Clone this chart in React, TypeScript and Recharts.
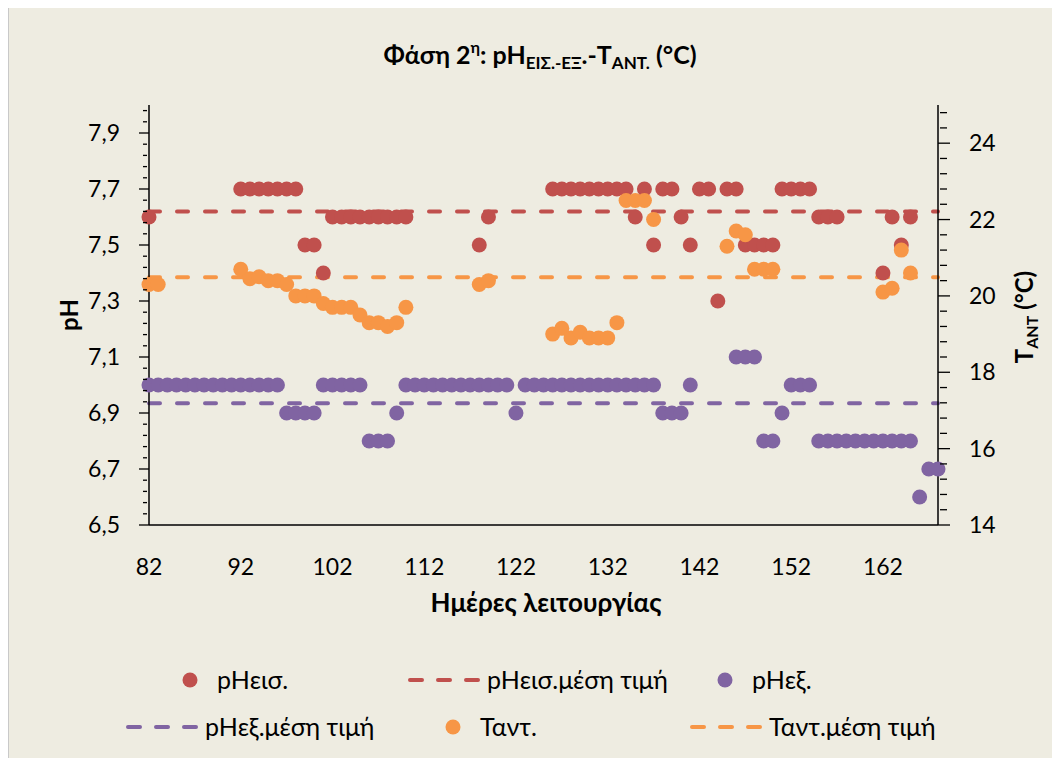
import { ComposedChart, Scatter, Line, XAxis, YAxis } from "recharts";

// ημέρες λειτουργίας / τιμές ανά σειρά
const inletDays = [
  82, 92, 93, 94, 95, 96, 97, 98, 99, 100, 101, 102, 103, 104, 105, 106, 107, 108, 109, 110,
  118, 119, 126, 127, 128, 129, 130, 131, 132, 133, 134, 135, 136, 137, 138, 139, 140, 141,
  142, 143, 144, 145, 146, 147, 148, 149, 150, 151, 152, 153, 154, 155, 156, 157, 162, 163, 164, 165,
];
const inletPH = [
  7.6, 7.7, 7.7, 7.7, 7.7, 7.7, 7.7, 7.7, 7.5, 7.5, 7.4, 7.6, 7.6, 7.6, 7.6, 7.6, 7.6, 7.6, 7.6, 7.6,
  7.5, 7.6, 7.7, 7.7, 7.7, 7.7, 7.7, 7.7, 7.7, 7.7, 7.7, 7.6, 7.7, 7.5, 7.7, 7.7, 7.6, 7.5,
  7.7, 7.7, 7.3, 7.7, 7.7, 7.5, 7.5, 7.5, 7.5, 7.7, 7.7, 7.7, 7.7, 7.6, 7.6, 7.6, 7.4, 7.6, 7.5, 7.6,
];

const outletDays = [
  82, 83, 84, 85, 86, 87, 88, 89, 90, 91, 92, 93, 94, 95, 96, 97, 98, 99, 100, 101, 102, 103, 104, 105,
  106, 107, 108, 109, 110, 111, 112, 113, 114, 115, 116, 117, 118, 119, 120, 121, 122, 123, 124, 125,
  126, 127, 128, 129, 130, 131, 132, 133, 134, 135, 136, 137, 138, 139, 140, 141, 146, 147, 148, 149,
  150, 151, 152, 153, 154, 155, 156, 157, 158, 159, 160, 161, 162, 163, 164, 165, 166, 167, 168,
];
const outletPH = [
  7.0, 7.0, 7.0, 7.0, 7.0, 7.0, 7.0, 7.0, 7.0, 7.0, 7.0, 7.0, 7.0, 7.0, 7.0, 6.9, 6.9, 6.9, 6.9, 7.0, 7.0, 7.0, 7.0, 7.0,
  6.8, 6.8, 6.8, 6.9, 7.0, 7.0, 7.0, 7.0, 7.0, 7.0, 7.0, 7.0, 7.0, 7.0, 7.0, 7.0, 6.9, 7.0, 7.0, 7.0,
  7.0, 7.0, 7.0, 7.0, 7.0, 7.0, 7.0, 7.0, 7.0, 7.0, 7.0, 7.0, 6.9, 6.9, 6.9, 7.0, 7.1, 7.1, 7.1, 6.8,
  6.8, 6.9, 7.0, 7.0, 7.0, 6.8, 6.8, 6.8, 6.8, 6.8, 6.8, 6.8, 6.8, 6.8, 6.8, 6.8, 6.6, 6.7, 6.7,
];

const tempDays = [
  82, 83, 92, 93, 94, 95, 96, 97, 98, 99, 100, 101, 102, 103, 104, 105, 106, 107, 108, 109, 110,
  118, 119, 126, 127, 128, 129, 130, 131, 132, 133, 134, 135, 136, 137, 145, 146, 147, 148, 149, 150,
  162, 163, 164, 165,
];
const tempAnt = [
  20.3, 20.3, 20.7, 20.45, 20.5, 20.4, 20.4, 20.3, 20.0, 20.0, 20.0, 19.8, 19.7, 19.7, 19.7, 19.5, 19.3, 19.3, 19.2, 19.3, 19.7,
  20.3, 20.4, 19.0, 19.15, 18.9, 19.05, 18.9, 18.9, 18.9, 19.3, 22.5, 22.5, 22.5, 22.0, 21.3, 21.7, 21.6, 20.7, 20.7, 20.7,
  20.1, 20.2, 21.2, 20.6,
];

const meanSpan = [82, 168];
const inletMean = 7.62;
const outletMean = 6.935;
const tempMean = 20.49;

const xTicks = [82, 92, 102, 112, 122, 132, 142, 152, 162];
const phMajor = [6.5, 6.7, 6.9, 7.1, 7.3, 7.5, 7.7, 7.9];
const tMajor = [14, 16, 18, 20, 22, 24];

const RED = "#C0504D";
const PURPLE = "#8064A2";
const ORANGE = "#F79646";
const FONT = "Lato, 'Open Sans', sans-serif";

const toPoints = (days: number[], vals: number[]) => days.map((d, i) => ({ day: d, v: vals[i] }));
const meanLine = (v: number) => meanSpan.map((d) => ({ day: d, v }));

// minor ticks: 5 per major step
const phTicks = Array.from({ length: 38 }, (_, i) => +(6.5 + i * 0.04).toFixed(2));
const tTicks = Array.from({ length: 28 }, (_, i) => +(14 + i * 0.4).toFixed(1));

const isMajor = (list: number[], v: number) => list.some((m) => Math.abs(m - v) < 1e-6);

const LeftTick = (props: any) => {
  const { x, y, payload } = props;
  const major = isMajor(phMajor, payload.value);
  return (
    <g>
      <line x1={major ? x - 8 : x - 4} x2={major ? x + 2 : x} y1={y} y2={y} stroke="#000" strokeWidth={1.3} />
      {major && (
        <text x={x - 27} y={y} dy={8} textAnchor="end" fontSize={23} fontFamily={FONT} fill="#000">
          {payload.value.toFixed(1).replace(".", ",")}
        </text>
      )}
    </g>
  );
};

const RightTick = (props: any) => {
  const { x, y, payload } = props;
  const major = isMajor(tMajor, payload.value);
  return (
    <g>
      <line x1={major ? x - 2 : x} x2={major ? x + 10 : x + 7} y1={y} y2={y} stroke="#000" strokeWidth={1.3} />
      {major && (
        <text x={x + 29} y={y} dy={8} textAnchor="start" fontSize={23} fontFamily={FONT} fill="#000">
          {payload.value}
        </text>
      )}
    </g>
  );
};

const BottomTick = (props: any) => {
  const { x, y, payload } = props;
  return (
    <text x={x} y={y + 48} textAnchor="middle" fontSize={23} fontFamily={FONT} fill="#000">
      {payload.value}
    </text>
  );
};

const dot = (color: string) => (p: any) => <circle cx={p.cx} cy={p.cy} r={7.5} fill={color} />;

const DASH = "11 17";
const LEG_FS = 25;

const LegendDot = ({ x, y, color, label }: any) => (
  <g>
    <circle cx={x} cy={y} r={7.5} fill={color} />
    <text x={x + 27} y={y + 9} fontSize={LEG_FS} fontFamily={FONT} fill="#000">{label}</text>
  </g>
);
const LegendDash = ({ x, y, color, label }: any) => (
  <g>
    <line x1={x + 2} x2={x + 74} y1={y} y2={y} stroke={color} strokeWidth={4} strokeDasharray="12 16" strokeLinecap="round" />
    <text x={x + 79} y={y + 9} fontSize={LEG_FS} fontFamily={FONT} fill="#000">{label}</text>
  </g>
);

export default function App() {
  return (
    <div
      style={{
        position: "relative",
        width: 1052,
        height: 758,
        marginTop: -8,
        background: "#EEECE1",
        boxShadow: "inset 1px 0 0 #c9c9c9",
        fontFamily: FONT,
      }}
    >
      <div style={{ position: "absolute", left: 0, top: 0 }}>
        <ComposedChart width={1052} height={640} margin={{ top: 105, right: 62, left: 81, bottom: 85 }}>
          <XAxis
            dataKey="day"
            type="number"
            domain={[82, 168]}
            ticks={xTicks}
            interval={0}
            tick={<BottomTick />}
            tickLine={false}
            tickSize={0}
            height={30}
            axisLine={{ stroke: "#000", strokeWidth: 1.5 }}
          />
          <YAxis
            yAxisId="left"
            orientation="left"
            type="number"
            domain={[6.5, 8]}
            ticks={phTicks}
            interval={0}
            tick={<LeftTick />}
            tickLine={false}
            tickSize={0}
            width={60}
            allowDataOverflow
            axisLine={{ stroke: "#000", strokeWidth: 1.5 }}
          />
          <YAxis
            yAxisId="right"
            orientation="right"
            type="number"
            domain={[14, 25]}
            ticks={tTicks}
            interval={0}
            tick={<RightTick />}
            tickLine={false}
            tickSize={0}
            width={60}
            allowDataOverflow
            axisLine={{ stroke: "#000", strokeWidth: 1.5 }}
          />
          <Scatter
            yAxisId="left"
            data={toPoints(inletDays, inletPH)}
            dataKey="v"
            shape={dot(RED)}
            isAnimationActive={false}
          />
          <Line
            yAxisId="left"
            data={meanLine(inletMean)}
            dataKey="v"
            stroke={RED}
            strokeWidth={4}
            strokeDasharray={DASH}
            strokeLinecap="round"
            dot={false}
            activeDot={false}
            isAnimationActive={false}
          />
          <Scatter
            yAxisId="left"
            data={toPoints(outletDays, outletPH)}
            dataKey="v"
            shape={dot(PURPLE)}
            isAnimationActive={false}
          />
          <Line
            yAxisId="left"
            data={meanLine(outletMean)}
            dataKey="v"
            stroke={PURPLE}
            strokeWidth={4}
            strokeDasharray={DASH}
            strokeLinecap="round"
            dot={false}
            activeDot={false}
            isAnimationActive={false}
          />
          <Scatter
            yAxisId="right"
            data={toPoints(tempDays, tempAnt)}
            dataKey="v"
            shape={dot(ORANGE)}
            isAnimationActive={false}
          />
          <Line
            yAxisId="right"
            data={meanLine(tempMean)}
            dataKey="v"
            stroke={ORANGE}
            strokeWidth={4}
            strokeDasharray={DASH}
            strokeLinecap="round"
            dot={false}
            activeDot={false}
            isAnimationActive={false}
          />
        </ComposedChart>
      </div>
      <svg
        width={1052}
        height={758}
        style={{ position: "absolute", left: 0, top: 0, pointerEvents: "none" }}
      >
        <text x={532} y={64} textAnchor="middle" fontSize={25} fontWeight="bold" fontFamily={FONT} fill="#000">
          Φάση 2<tspan fontSize={16} dy={-11}>η</tspan>
          <tspan fontSize={25} dy={11}>: pH</tspan>
          <tspan fontSize={17} dy={5}>ΕΙΣ.-ΕΞ</tspan>
          <tspan fontSize={25} dy={-5}>.-T</tspan>
          <tspan fontSize={17} dy={5}>ΑΝΤ.</tspan>
          <tspan fontSize={25} dy={-5}> (°C)</tspan>
        </text>
        <text
          transform="translate(62 315) rotate(-90)"
          textAnchor="middle"
          dy={8}
          fontSize={24}
          fontWeight="bold"
          fontFamily={FONT}
          fill="#000"
        >
          pH
        </text>
        <text
          transform="translate(1017 317) rotate(-90)"
          textAnchor="middle"
          dy={8}
          fontSize={24}
          fontWeight="bold"
          fontFamily={FONT}
          fill="#000"
        >
          T<tspan fontSize={16} dy={5}>ANT</tspan>
          <tspan fontSize={24} dy={-5}> (°C)</tspan>
        </text>
        <text x={538} y={612} textAnchor="middle" fontSize={26} fontWeight="bold" fontFamily={FONT} fill="#000">
          Ημέρες λειτουργίας
        </text>
        <LegendDot x={182} y={680} color={RED} label="pHεισ." />
        <LegendDash x={400} y={680} color={RED} label="pHεισ.μέση τιμή" />
        <LegendDot x={717} y={680} color={PURPLE} label="pHεξ." />
        <LegendDash x={118} y={727} color={PURPLE} label="pHεξ.μέση τιμή" />
        <LegendDot x={445} y={727} color={ORANGE} label="Ταντ." />
        <LegendDash x={682} y={727} color={ORANGE} label="Ταντ.μέση τιμή" />
      </svg>
    </div>
  );
}
